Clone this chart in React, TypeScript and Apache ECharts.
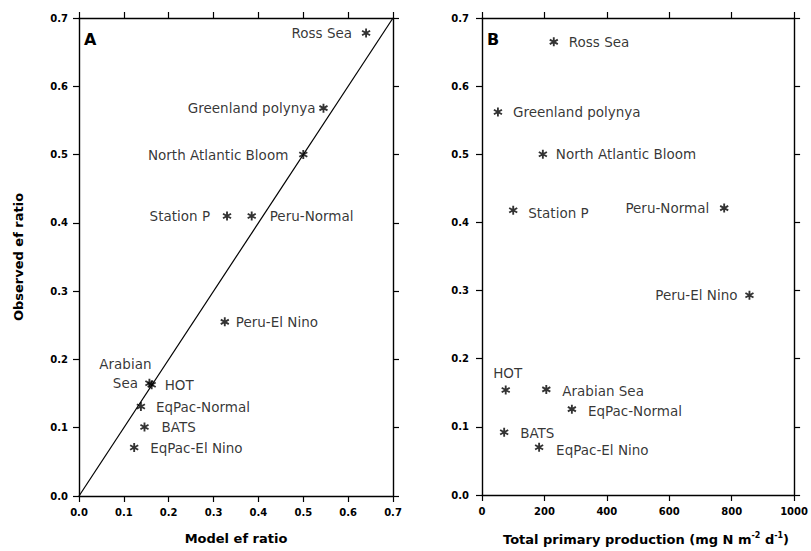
import React, { useEffect, useRef } from "react";
import * as echarts from "echarts";

const sites = [
  "Ross Sea",
  "Greenland polynya",
  "North Atlantic Bloom",
  "Station P",
  "Peru-Normal",
  "Peru-El Nino",
  "Arabian Sea",
  "HOT",
  "EqPac-Normal",
  "BATS",
  "EqPac-El Nino",
];
const modelRatio = [0.64, 0.545, 0.5, 0.33, 0.385, 0.325, 0.157, 0.162, 0.138, 0.146, 0.123];
const observedRatioA = [0.678, 0.568, 0.5, 0.41, 0.41, 0.255, 0.165, 0.163, 0.131, 0.101, 0.071];
const totalProduction = [230, 51, 195, 100, 776, 857, 206, 76, 288, 71, 183];
const observedRatioB = [0.665, 0.562, 0.5, 0.418, 0.421, 0.293, 0.155, 0.154, 0.126, 0.092, 0.07];
const oneToOneLine = [
  [0, 0],
  [0.7, 0.7],
];
const ratioTicks = { min: 0, max: 0.7, interval: 0.1 };
const productionTicks = { min: 0, max: 1000, interval: 200 };

type Place = { align: string; dx: number; dy: number; text?: string };
const placeA: Record<string, Place> = {
  "Ross Sea": { align: "right", dx: -14, dy: 0 },
  "Greenland polynya": { align: "right", dx: -8, dy: 0 },
  "North Atlantic Bloom": { align: "right", dx: -15, dy: 0 },
  "Station P": { align: "right", dx: -17, dy: 0 },
  "Peru-Normal": { align: "left", dx: 18, dy: 0 },
  "Peru-El Nino": { align: "left", dx: 11, dy: 0 },
  "Arabian Sea": { align: "center", dx: -24, dy: -9.5, text: "Arabian\nSea" },
  HOT: { align: "left", dx: 13, dy: 0 },
  "EqPac-Normal": { align: "left", dx: 15, dy: 0 },
  BATS: { align: "left", dx: 17, dy: 0 },
  "EqPac-El Nino": { align: "left", dx: 16, dy: 0 },
};
const placeB: Record<string, Place> = {
  "Ross Sea": { align: "left", dx: 15, dy: 0 },
  "Greenland polynya": { align: "left", dx: 15, dy: 0 },
  "North Atlantic Bloom": { align: "left", dx: 13, dy: 0 },
  "Station P": { align: "left", dx: 15, dy: 3 },
  "Peru-Normal": { align: "right", dx: -15, dy: 0 },
  "Peru-El Nino": { align: "right", dx: -12, dy: 0 },
  "Arabian Sea": { align: "left", dx: 16, dy: 2 },
  HOT: { align: "center", dx: 2, dy: -17 },
  "EqPac-Normal": { align: "left", dx: 16, dy: 2 },
  BATS: { align: "left", dx: 16, dy: 1 },
  "EqPac-El Nino": { align: "left", dx: 17, dy: 3 },
};

const INK = "#000000";
const FONT = "'DejaVu Sans', sans-serif";
const STAR =
  "path://M-1,-5L1,-5L1,5L-1,5Z M3.83,-3.366L4.83,-1.634L-3.83,3.366L-4.83,1.634Z M-4.83,-1.634L-3.83,-3.366L4.83,1.634L3.83,3.366Z";

function buildPoints(xs: number[], ys: number[], place: Record<string, Place>) {
  return sites.map((name, i) => {
    const p = place[name];
    return {
      name,
      value: [xs[i], ys[i]],
      label: {
        show: true,
        position: "inside",
        align: p.align,
        verticalAlign: "middle",
        offset: [p.dx, p.dy],
        formatter: p.text ?? name,
        color: INK,
        fontFamily: FONT,
        fontSize: 13.5,
        lineHeight: 19,
      },
    };
  });
}

function axisCommon(extra: any) {
  return {
    type: "value",
    splitLine: { show: false },
    axisLine: { show: true, onZero: false, lineStyle: { color: INK, width: 1.4 } },
    axisTick: { show: true, inside: false, length: 6, lineStyle: { color: INK, width: 1.2 } },
    ...extra,
  };
}

export default function App() {
  const ref = useRef<HTMLDivElement>(null);
  useEffect(() => {
    document.body.style.margin = "0";
    if (!ref.current) return;
    const chart = echarts.init(ref.current, undefined, { renderer: "svg" });
    const tickLabel = (fmt: any, margin: number) => ({
      show: true,
      color: INK,
      fontFamily: FONT,
      fontWeight: "bold",
      fontSize: 10,
      margin,
      formatter: fmt,
    });
    const ratioFmt = (v: number) => v.toFixed(1);
    const intFmt = (v: number) => String(v);
    const nameStyle = { color: INK, fontFamily: FONT, fontWeight: "bold", fontSize: 13 };
    const option: any = {
      animation: false,
      backgroundColor: "#ffffff",
      grid: [
        { left: 79, top: 18, width: 314, height: 478 },
        { left: 482, top: 18, width: 315, height: 478 },
      ],
      xAxis: [
        axisCommon({
          gridIndex: 0,
          position: "bottom",
          ...ratioTicks,
          axisLabel: tickLabel(ratioFmt, 11),
          name: "Model ef ratio",
          nameLocation: "middle",
          nameGap: 36,
          nameTextStyle: nameStyle,
        }),
        axisCommon({ gridIndex: 0, position: "top", ...ratioTicks, axisLabel: { show: false } }),
        axisCommon({
          gridIndex: 1,
          position: "bottom",
          ...productionTicks,
          axisLabel: tickLabel(intFmt, 11),
          name: "Total primary production (mg N m{sup|-2} d{sup|-1})",
          nameLocation: "middle",
          nameGap: 36,
          nameTextStyle: {
            ...nameStyle,
            padding: [0, 0, 0, 16],
            rich: {
              sup: { fontFamily: FONT, fontWeight: "bold", fontSize: 8, color: INK, padding: [0, 0, 9, 0] },
            },
          },
        }),
        axisCommon({ gridIndex: 1, position: "top", ...productionTicks, axisLabel: { show: false } }),
      ],
      yAxis: [
        axisCommon({
          gridIndex: 0,
          position: "left",
          ...ratioTicks,
          axisLabel: tickLabel(ratioFmt, 11),
          name: "Observed ef ratio",
          nameLocation: "middle",
          nameGap: 54,
          nameTextStyle: nameStyle,
        }),
        axisCommon({ gridIndex: 0, position: "right", ...ratioTicks, axisLabel: { show: false } }),
        axisCommon({
          gridIndex: 1,
          position: "left",
          ...ratioTicks,
          axisLabel: tickLabel(ratioFmt, 13),
        }),
        axisCommon({ gridIndex: 1, position: "right", ...ratioTicks, axisLabel: { show: false } }),
      ],
      graphic: [
        {
          type: "text",
          left: 84,
          top: 31,
          style: { text: "A", fill: INK, font: `bold 16px ${FONT}` },
        },
        {
          type: "text",
          left: 487,
          top: 31,
          style: { text: "B", fill: INK, font: `bold 16px ${FONT}` },
        },
      ],
      series: [
        {
          type: "line",
          xAxisIndex: 0,
          yAxisIndex: 0,
          data: oneToOneLine,
          symbol: "none",
          lineStyle: { color: INK, width: 1.2 },
          silent: true,
          z: 1,
        },
        {
          type: "scatter",
          xAxisIndex: 0,
          yAxisIndex: 0,
          symbol: STAR,
          symbolSize: 9,
          itemStyle: { color: INK },
          data: buildPoints(modelRatio, observedRatioA, placeA),
          z: 3,
        },
        {
          type: "scatter",
          xAxisIndex: 2,
          yAxisIndex: 2,
          symbol: STAR,
          symbolSize: 9,
          itemStyle: { color: INK },
          data: buildPoints(totalProduction, observedRatioB, placeB),
          z: 3,
        },
      ],
    };
    chart.setOption(option);
    return () => chart.dispose();
  }, []);
  return <div ref={ref} style={{ width: 811, height: 551 }} />;
}
